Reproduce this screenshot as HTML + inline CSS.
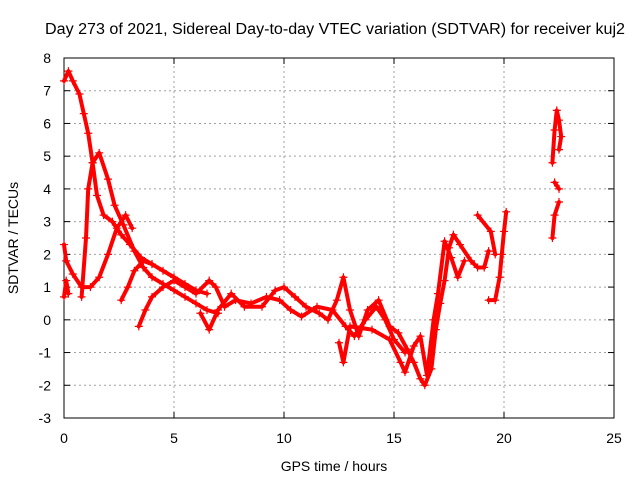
<!DOCTYPE html>
<html><head><meta charset="utf-8"><style>
body{margin:0;background:#fff;}
svg text{font-family:"Liberation Sans",sans-serif;font-size:14px;fill:#000;}
</style></head><body>
<svg id="chart" width="640" height="480">
<rect width="640" height="480" fill="#fff"/>
<text x="45" y="34" textLength="580" lengthAdjust="spacingAndGlyphs" style="font-size:15.5px">Day 273 of 2021, Sidereal Day-to-day VTEC variation (SDTVAR) for receiver kuj2</text>
<text x="334" y="471" text-anchor="middle">GPS time / hours</text>
<text transform="translate(18,238) rotate(-90)" text-anchor="middle">SDTVAR / TECUs</text>
<g id="grid"></g><g id="axes"></g><g id="marks"></g>
</svg>
<script>
const xTicks=[0,5,10,15,20,25];
const yTicks=[-3,-2,-1,0,1,2,3,4,5,6,7,8];
const trackA=[[0,7.3],[0.2,7.6],[0.4,7.3],[0.7,6.9],[0.9,6.3],[1.1,5.7],[1.3,4.8],[1.5,3.8],[1.8,3.2],[2.2,3.0],[2.6,2.6],[3.0,2.3],[3.5,1.9],[4,1.7],[4.5,1.5],[5,1.3],[5.5,1.1],[6,0.9],[6.5,0.8]];
const trackB=[[0.8,0.7],[1.0,2.5],[1.1,4.0],[1.3,4.8],[1.6,5.1],[2.0,4.3],[2.3,3.5],[2.7,2.9],[3.2,2.1],[3.6,1.6],[4,1.3],[4.5,1.1],[5,0.9],[5.5,0.7],[6,0.5],[6.5,0.3],[7,0.2]];
const trackC=[[0,2.3],[0.1,1.8],[0.4,1.4],[0.8,1.0],[1.2,1.0],[1.6,1.3],[2.0,2.0],[2.4,2.8],[2.8,3.2],[3.1,2.8]];
const trackD=[[0,0.7],[0.1,1.2],[0.2,0.8]];
const trackD2=[[2.6,0.6],[2.9,1.0],[3.2,1.5],[3.6,1.8],[4.0,1.7]];
const trackE=[[3.4,-0.2],[3.7,0.3],[4.0,0.7],[4.5,1.0],[5,1.2],[5.5,1.0],[6,0.8],[6.6,1.2],[6.9,1.0],[7.3,0.4],[7.8,0.6],[8.5,0.5],[9.2,0.7],[9.8,0.6],[10.3,0.3],[10.8,0.1],[11.5,0.4],[12.2,0.3],[12.8,-0.2],[13.2,-0.5],[13.7,0.0],[14.2,0.4],[14.6,0.0],[15.0,-0.6],[15.5,-1.0]];
const trackF=[[6.2,0.2],[6.6,-0.3],[7.0,0.3],[7.6,0.8],[8.2,0.4],[9.0,0.4],[9.6,0.9],[10.0,1.0],[10.5,0.7],[11.0,0.4],[11.6,0.2],[12.0,0.0],[12.4,0.6],[12.7,1.3],[13.0,0.3],[13.4,-0.5],[13.8,0.3],[14.3,0.6],[14.8,-0.2],[15.2,-0.4],[15.6,-0.9],[15.9,-1.3],[16.2,-1.8],[16.4,-2.0],[16.7,-1.5],[16.9,-0.3],[17.1,0.5],[17.3,1.2],[17.5,2.2],[17.7,2.6],[18.0,2.3],[18.5,1.8],[18.8,1.6],[19.1,1.6],[19.3,2.1]];
const trackG=[[12.5,-0.7],[12.7,-1.3],[13.0,-0.2],[14.0,-0.3],[14.8,-0.6],[15.3,-1.3],[15.5,-1.6],[15.9,-0.8],[16.2,-0.5],[16.5,-1.7],[16.8,0.0],[17.0,0.8],[17.3,2.4],[17.6,1.9],[17.9,1.3],[18.2,1.8]];
const trackH=[[19.3,0.6],[19.6,0.6],[19.8,1.3],[19.9,2.0],[20.0,2.7],[20.1,3.3]];
const trackI=[[18.8,3.2],[19.4,2.7],[19.6,2.0]];
const trackJ=[[22.2,2.5],[22.3,3.2],[22.5,3.6]];
const trackK=[[22.2,4.8],[22.3,5.8],[22.4,6.4],[22.5,6.1],[22.6,5.6],[22.5,5.2]];
const trackL=[[22.3,4.2],[22.5,4.0]];
const series=[trackA,trackB,trackC,trackD,trackD2,trackE,trackF,trackG,trackH,trackI,trackJ,trackK,trackL];
const X0=64,X1=614,Y0=418,Y1=58,xMin=0,xMax=25,yMin=-3,yMax=8;
const xs=v=>X0+(v-xMin)/(xMax-xMin)*(X1-X0);
const ys=v=>Y0-(v-yMin)/(yMax-yMin)*(Y0-Y1);
const NS="http://www.w3.org/2000/svg";
function mk(t,a,p){const e=document.createElementNS(NS,t);for(const k in a)e.setAttribute(k,a[k]);p.appendChild(e);return e;}
const grid=document.getElementById('grid'),axes=document.getElementById('axes'),marks=document.getElementById('marks');
xTicks.forEach(t=>{const x=xs(t);
 if(t>xMin&&t<xMax){const g=mk('line',{x1:x,x2:x,y1:Y0,y2:Y1,stroke:'#a0a0a0','stroke-dasharray':'2,3','stroke-width':1},grid);
 
 }
 mk('line',{x1:x,x2:x,y1:Y0,y2:Y0-6,stroke:'#000'},axes);mk('line',{x1:x,x2:x,y1:Y1,y2:Y1+6,stroke:'#000'},axes);
 const l=mk('text',{x:x,y:Y0+25,'text-anchor':'middle'},axes);l.textContent=t;
 
 });
yTicks.forEach(t=>{const y=ys(t);
 if(t>yMin&&t<yMax){const g=mk('line',{x1:X0,x2:X1,y1:y,y2:y,stroke:'#a0a0a0','stroke-dasharray':'2,3','stroke-width':1},grid);
 
 }
 mk('line',{x1:X0,x2:X0+6,y1:y,y2:y,stroke:'#000'},axes);mk('line',{x1:X1,x2:X1-6,y1:y,y2:y,stroke:'#000'},axes);
 const l=mk('text',{x:X0-13,y:y+5,'text-anchor':'end'},axes);l.textContent=t;
 
 });
const fr=mk('rect',{x:X0,y:Y1,width:X1-X0,height:Y0-Y1,fill:'none',stroke:'#000'},axes);


series.forEach(s=>{
 const pl=mk('polyline',{points:s.map(p=>xs(p[0])+','+ys(p[1])).join(' '),fill:'none',stroke:'#ff0000','stroke-width':4,'stroke-linejoin':'round','stroke-linecap':'round'},marks);
 
 
 s.forEach(p=>{const x=xs(p[0]),y=ys(p[1]);
  const m=mk('path',{d:`M${x-4},${y}H${x+4}M${x},${y-4}V${y+4}`,stroke:'#ff0000','stroke-width':1.2},marks);
  
  });
});
</script>
</body></html>
